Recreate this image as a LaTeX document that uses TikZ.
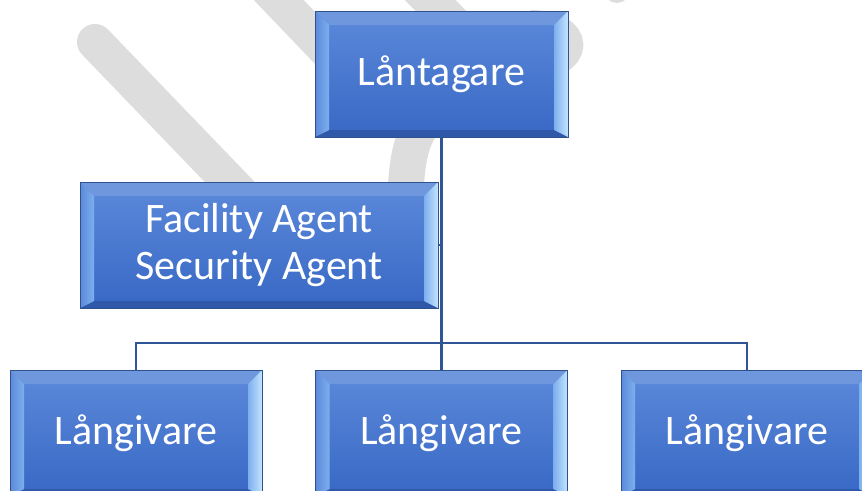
\documentclass[tikz,border=0pt]{standalone}
\usepackage{fontspec}
\setmainfont{Carlito}
\usetikzlibrary{calc}

\definecolor{boxtop}{RGB}{92,137,218}
\definecolor{boxbot}{RGB}{56,104,197}
\definecolor{boxedge}{RGB}{47,82,143}
\definecolor{bevmid}{RGB}{125,175,238}
\definecolor{bevlight}{RGB}{195,228,255}
\definecolor{linkblue}{RGB}{47,85,151}
\definecolor{wmgray}{RGB}{221,221,221}

\tikzset{
    orgbox/.style={rectangle, draw=boxedge, line width=0.8pt,
        top color=boxtop, bottom color=boxbot, text=white,
        font=\fontsize{42}{47}\selectfont, align=center,
        minimum height=126pt, inner sep=0pt,
        path picture={
            \path (path picture bounding box.north west) coordinate (bnw)
                  (path picture bounding box.north east) coordinate (bne)
                  (path picture bounding box.south west) coordinate (bsw)
                  (path picture bounding box.south east) coordinate (bse);
            \fill[boxtop!88!white] (bnw) -- (bne) -- ($(bne)+(-14pt,-14pt)$) -- ($(bnw)+(14pt,-14pt)$) -- cycle;
            \fill[boxbot!85!black] (bsw) -- (bse) -- ($(bse)+(-14pt,7pt)$) -- ($(bsw)+(14pt,7pt)$) -- cycle;
            \shade[left color=boxtop, right color=bevmid] (bnw) -- ($(bnw)+(14pt,-14pt)$) -- ($(bsw)+(14pt,7pt)$) -- (bsw) -- cycle;
            \shade[left color=bevmid, right color=bevlight] (bne) -- ($(bne)+(-14pt,-14pt)$) -- ($(bse)+(-14pt,7pt)$) -- (bse) -- cycle;
        }},
    link/.style={draw=linkblue, line width=2.2pt},
    watermark/.style={draw=wmgray, line width=36pt, line cap=round}
}

\begin{document}
\begin{tikzpicture}[x=1pt, y=-1pt]
        \clip (0,0) rectangle (862,490);

        \draw[watermark] (95,42) -- (300,255);
        \draw[watermark] (250,-30) -- (360,85);
        \draw[watermark] (400,-30) -- (470,40);
        \draw[watermark, line cap=butt] (530,28) .. controls (577,28) and (577,62) .. (530,62);
        \draw[watermark] (445,100) .. controls (410,130) and (405,150) .. (405,230);
        \fill[wmgray] (617,-10) circle (13);

        \node[orgbox, minimum width=253pt] (borrower) at (441.5,74) {Låntagare};
        \node[orgbox, minimum width=358pt] (agent) at (259,245) {Facility Agent\\Security Agent};
        \node[orgbox, minimum width=252pt] (lender1) at (136,433) {Långivare};
        \node[orgbox, minimum width=252pt] (lender2) at (441.5,433) {Långivare};
        \node[orgbox, minimum width=252pt] (lender3) at (747,433) {Långivare};

        \coordinate (bar) at (441.5,343);
        \draw[link] (borrower.south) -- (lender2.north);
        \draw[link] (agent.east) -- (agent.east -| borrower.south);
        \draw[link] (lender1.north) |- (bar) -| (lender3.north);
\end{tikzpicture}
\end{document}
